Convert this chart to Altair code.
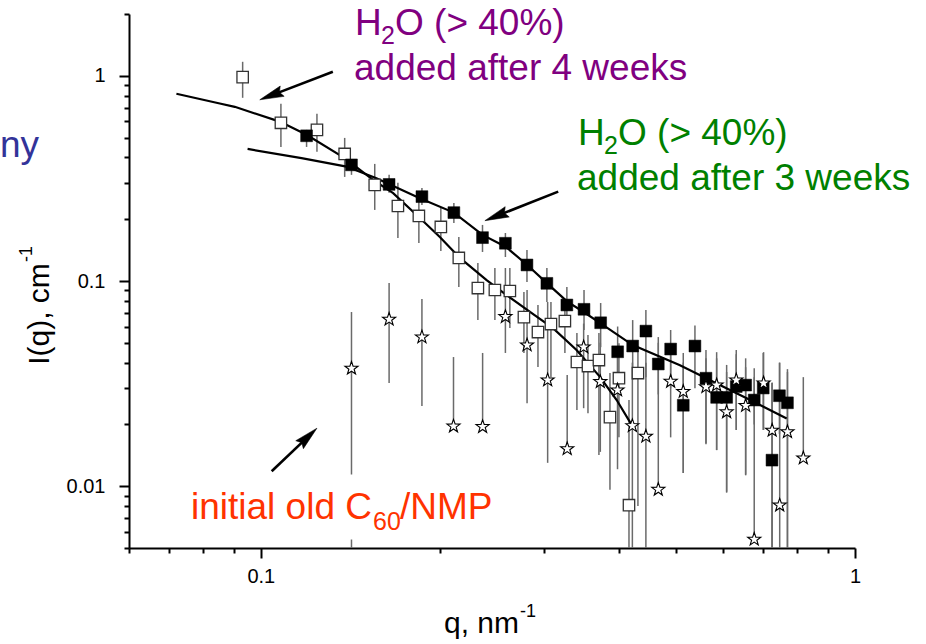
import math
import altair as alt
import pandas as pd

FONT = "Liberation Sans"

# ---------------- data ----------------
# open squares (H2O added after 4 weeks)
open_q = [0.0932, 0.1081, 0.1243, 0.1384, 0.1555, 0.1701, 0.1845, 0.2009, 0.2154, 0.2319,
          0.2477, 0.2625, 0.2772, 0.2927, 0.3078, 0.3249, 0.3404, 0.3553, 0.3707, 0.3869,
          0.4006, 0.4165, 0.4312]
open_I = [0.985, 0.590, 0.545, 0.416, 0.294, 0.232, 0.2075, 0.1834, 0.1295, 0.0924,
          0.0904, 0.0894, 0.0667, 0.0564, 0.0617, 0.0638, 0.0403, 0.0385, 0.0412, 0.0217,
          0.0336, 0.00808, 0.0356]
open_hi = [1.170, 0.730, 0.653, 0.498, 0.372, 0.301, 0.2428, 0.2270, 0.1639, 0.1224,
           0.1157, 0.1157, 0.0884, 0.0764, 0.0790, 0.0808, 0.0558, 0.0545, 0.0558, 0.0356,
           0.0498, 0.0263, 0.0480]
open_lo = [0.781, 0.450, 0.426, 0.3215, 0.222, 0.1621, 0.1532, 0.1400, 0.0935, 0.0645,
           0.0645, 0.0590, 0.0446, 0.0381, 0.0340, 0.0446, 0.0235, 0.0227, 0.0142, 0.0096,
           0.0173, 0.0040, 0.0080]

# filled squares (H2O added after 3 weeks)
fill_q = [0.1194, 0.1421, 0.1644, 0.1867, 0.2113, 0.2361, 0.2580, 0.2805, 0.3030, 0.3274,
          0.3499, 0.3732, 0.3986, 0.4225, 0.4447, 0.4666, 0.4895, 0.5140, 0.5378, 0.5613,
          0.5850, 0.6081, 0.6312, 0.6546, 0.6767, 0.7007, 0.7249, 0.7462, 0.7697]
fill_I = [0.510, 0.368, 0.2956, 0.2577, 0.2154, 0.1627, 0.1527, 0.1197, 0.0974, 0.0764,
          0.0728, 0.0626, 0.0452, 0.0482, 0.0570, 0.0394, 0.0466, 0.0248, 0.0482, 0.0336,
          0.0271, 0.0271, 0.0306, 0.0311, 0.0263, 0.0301, 0.0134, 0.0276, 0.0255]
fill_hi = [0.545, 0.389, 0.329, 0.2842, 0.2401, 0.1876, 0.1714, 0.1416, 0.1157, 0.0935,
           0.0904, 0.0781, 0.0600, 0.0645, 0.0722, 0.0500, 0.0577, 0.0446, 0.0607, 0.0461,
           0.0450, 0.0390, 0.0461, 0.0420, 0.0340, 0.0446, 0.0318, 0.0400, 0.0372]
fill_lo = [0.450, 0.329, 0.269, 0.2348, 0.1919, 0.1385, 0.1309, 0.0989, 0.0790, 0.0622,
           0.0577, 0.0476, 0.0340, 0.0330, 0.0340, 0.0280, 0.0300, 0.0116, 0.0300, 0.0162,
           0.0150, 0.0093, 0.0188, 0.0113, 0.0200, 0.0188, 0.0040, 0.0180, 0.0040]

# open stars (initial old C60/NMP)
star_q = [0.1421, 0.1644, 0.1867, 0.2110, 0.2362, 0.2580, 0.2806, 0.3039, 0.3278, 0.3494,
          0.3727, 0.3984, 0.4220, 0.4447, 0.4666, 0.4895, 0.5140, 0.5613, 0.5850, 0.6081,
          0.6312, 0.6546, 0.6767, 0.7017, 0.7254, 0.7469, 0.7697, 0.8185]
star_I = [0.0375, 0.0650, 0.0533, 0.0196, 0.0195, 0.0670, 0.0487, 0.0329, 0.0152, 0.0476,
          0.0323, 0.0294, 0.0197, 0.0175, 0.00964, 0.0324, 0.0289, 0.0305, 0.0311, 0.0230,
          0.0329, 0.0247, 0.00551, 0.0318, 0.0187, 0.00808, 0.0184, 0.0137]
star_hi = [0.0706, 0.0978, 0.0817, 0.0426, 0.0446, 0.1157, 0.0904, 0.0790, 0.0348, 0.0620,
           0.0500, 0.0450, 0.0400, 0.0400, 0.0533, 0.0450, 0.0400, 0.0420, 0.0420, 0.0360,
           0.0440, 0.0380, 0.0376, 0.0450, 0.0320, 0.0400, 0.0360, 0.0340]
star_lo = [0.0040, 0.0318, 0.0246, 0.0196, 0.0195, 0.0446, 0.0254, 0.0130, 0.0152, 0.0240,
           0.0147, 0.0121, 0.0040, 0.0040, 0.00964, 0.0173, 0.0116, 0.0160, 0.0150, 0.0094,
           0.0188, 0.0114, 0.00551, 0.0188, 0.0040, 0.0040, 0.0040, 0.0137]

# fitted curves
fitA_q = [0.0721, 0.0853, 0.0904, 0.1076, 0.1194, 0.1384, 0.1545, 0.1670, 0.1852, 0.2001,
          0.2163, 0.2399, 0.2592, 0.2838, 0.3106, 0.3399, 0.3722, 0.3971, 0.4213]
fitA_I = [0.817, 0.733, 0.706, 0.598, 0.5155, 0.3967, 0.311, 0.2678, 0.2029, 0.1639,
          0.1295, 0.1011, 0.0854, 0.0708, 0.0588, 0.0461, 0.0341, 0.0263, 0.0198]
fitB_q = [0.0950, 0.1171, 0.1394, 0.1565, 0.1852, 0.2113, 0.2361, 0.2582, 0.2808, 0.3033,
          0.3279, 0.3489, 0.3732, 0.4225, 0.5075, 0.5773, 0.6572, 0.7674]
fitB_I = [0.440, 0.3967, 0.3610, 0.3170, 0.2531, 0.2154, 0.1677, 0.1470, 0.1197, 0.0974,
          0.0793, 0.0708, 0.0622, 0.0487, 0.0389, 0.0323, 0.0268, 0.0214]

# arrows (tail -> tip, data coordinates)
arrow_tail_q = [0.1322, 0.3166, 0.1043]
arrow_tail_I = [1.046, 0.2726, 0.01183]
arrow_tip_q = [0.0996, 0.2383, 0.1243]
arrow_tip_I = [0.764, 0.1968, 0.01918]

# axes
X_DOMAIN = [0.06, 1.0]
Y_DOMAIN = [0.005, 2.0]
X_TICKS = [0.06, 0.07, 0.08, 0.09, 0.1, 0.2, 0.3, 0.4, 0.5, 0.6, 0.7, 0.8, 0.9, 1.0]
Y_TICKS = [0.005, 0.006, 0.007, 0.008, 0.009, 0.01, 0.02, 0.03, 0.04, 0.05, 0.06, 0.07,
           0.08, 0.09, 0.1, 0.2, 0.3, 0.4, 0.5, 0.6, 0.7, 0.8, 0.9, 1.0, 2.0]
X_MAJOR = [0.1, 1.0]
X_MAJOR_LABELS = ["0.1", "1"]
Y_MAJOR = [0.01, 0.1, 1.0]
Y_MAJOR_LABELS = ["0.01", "0.1", "1"]

# ---------------- layout ----------------
W, H = 726, 534
PAD_L, PAD_T, PAD_R, PAD_B = 129, 14, 71, 96
PPD_X = W / (math.log10(X_DOMAIN[1]) - math.log10(X_DOMAIN[0]))
PPD_Y = H / (math.log10(Y_DOMAIN[1]) - math.log10(Y_DOMAIN[0]))


def major_test(vals):
    return " || ".join(f"datum.value == {v}" for v in vals)


def label_expr(vals, labels):
    expr = "''"
    for v, l in reversed(list(zip(vals, labels))):
        expr = f"datum.value == {v} ? '{l}' : ({expr})"
    return expr


def make_axis(ticks, major, labels, pad):
    return alt.Axis(
        values=ticks,
        labelExpr=label_expr(major, labels),
        tickSize={"condition": {"test": major_test(major), "value": 10}, "value": 5},
        tickWidth=2, tickColor="black",
        domainWidth=2, domainColor="black",
        labelFont=FONT, labelFontSize=20, labelColor="black", labelPadding=pad,
        labelFlush=False, labelOverlap=False, grid=False, title="",
    )


x_axis = make_axis(X_TICKS, X_MAJOR, X_MAJOR_LABELS, 8)
y_axis = make_axis(Y_TICKS, Y_MAJOR, Y_MAJOR_LABELS, 14)
xs = alt.Scale(type="log", domain=X_DOMAIN, nice=False)
ys = alt.Scale(type="log", domain=Y_DOMAIN, nice=False)


def X(f):
    return alt.X(f, type="quantitative", scale=xs, axis=x_axis)


def Y(f):
    return alt.Y(f, type="quantitative", scale=ys, axis=y_axis)


open_df = pd.DataFrame({"q": open_q, "I": open_I, "lo": open_lo, "hi": open_hi})
fill_df = pd.DataFrame({"q": fill_q, "I": fill_I, "lo": fill_lo, "hi": fill_hi})
star_df = pd.DataFrame({"q": star_q, "I": star_I, "lo": star_lo, "hi": star_hi})
err_df = pd.concat([open_df, fill_df, star_df], ignore_index=True)
fitA_df = pd.DataFrame({"q": fitA_q, "I": fitA_I})
fitB_df = pd.DataFrame({"q": fitB_q, "I": fitB_I})

# arrows: compute head angle and shortened shaft end
rows = []
HEAD_LEN = 24.0
for tq, tI, hq, hI in zip(arrow_tail_q, arrow_tail_I, arrow_tip_q, arrow_tip_I):
    dx = (math.log10(hq) - math.log10(tq)) * PPD_X
    dy = -(math.log10(hI) - math.log10(tI)) * PPD_Y
    length = math.hypot(dx, dy)
    ang = math.degrees(math.atan2(dy, dx)) % 360
    f = 1 - (HEAD_LEN * 0.6) / length
    eq = 10 ** (math.log10(tq) + f * (math.log10(hq) - math.log10(tq)))
    eI = 10 ** (math.log10(tI) + f * (math.log10(hI) - math.log10(tI)))
    rows.append({"tq": tq, "tI": tI, "eq": eq, "eI": eI, "hq": hq, "hI": hI, "ang": ang})
arrow_df = pd.DataFrame(rows)

STAR = ("M0,-1L0.235,-0.324L0.951,-0.309L0.38,0.124L0.588,0.809L0,0.4"
        "L-0.588,0.809L-0.38,0.124L-0.951,-0.309L-0.235,-0.324Z")
HEAD = "M0,0L-2,-0.46L-1.75,0L-2,0.46Z"

err = alt.Chart(err_df).mark_rule(color="#6a6a6a", strokeWidth=1.5, clip=True).encode(
    x=X("q"), y=Y("lo"), y2=alt.Y2("hi"))
fitA = alt.Chart(fitA_df).mark_line(color="black", strokeWidth=2.2, clip=True).encode(
    x=X("q"), y=Y("I"))
fitB = alt.Chart(fitB_df).mark_line(color="black", strokeWidth=2.2, clip=True).encode(
    x=X("q"), y=Y("I"))
open_pts = alt.Chart(open_df).mark_point(shape="square", size=130, filled=True, fill="white",
                                         stroke="#333333", strokeWidth=1.3, opacity=1).encode(
    x=X("q"), y=Y("I"))
fill_pts = alt.Chart(fill_df).mark_point(shape="square", size=140, filled=True, fill="black",
                                         stroke="black", strokeWidth=0.5, opacity=1).encode(
    x=X("q"), y=Y("I"))
star_pts = alt.Chart(star_df).mark_point(shape=STAR, size=190, filled=True, fill="white",
                                         stroke="black", strokeWidth=1.1, opacity=1).encode(
    x=X("q"), y=Y("I"))
shaft = alt.Chart(arrow_df).mark_rule(color="black", strokeWidth=2.6).encode(
    x=X("tq"), y=Y("tI"), x2=alt.X2("eq"), y2=alt.Y2("eI"))
head = alt.Chart(arrow_df).mark_point(shape=HEAD, size=576, filled=True, fill="black",
                                      stroke="black", strokeWidth=0.5, opacity=1).encode(
    x=X("hq"), y=Y("hI"), angle=alt.Angle("ang:Q", scale=None))

dummy = pd.DataFrame({"k": [0]})


def txt(text, x, y, size, color, align="left", angle=0):
    return alt.Chart(dummy).mark_text(
        text=text, font=FONT, fontSize=size, color=color, align=align,
        baseline="alphabetic", angle=angle).encode(
        x=alt.value(x - PAD_L), y=alt.value(y - PAD_T))


box = alt.Chart(dummy).mark_rect(fill="white", stroke="white").encode(
    x=alt.value(186 - PAD_L), x2=alt.value(494 - PAD_L),
    y=alt.value(475 - PAD_T), y2=alt.value(539 - PAD_T))

PURPLE, GREEN, RED, BLUE = "#800080", "#008000", "#ff3300", "#333399"
texts = [
    txt("H", 355, 35, 37, PURPLE),
    txt("2", 381, 44, 25, PURPLE),
    txt("O (> 40%)", 395, 35, 37, PURPLE),
    txt("added after 4 weeks", 354, 80, 37, PURPLE),
    txt("H", 578, 145, 37, GREEN),
    txt("2", 604, 154, 25, GREEN),
    txt("O (> 40%)", 618, 145, 37, GREEN),
    txt("added after 3 weeks", 577, 190, 37, GREEN),
    txt("initial old C", 191, 519, 37, RED),
    txt("60", 373, 530, 25, RED),
    txt("/NMP", 400, 519, 37, RED),
    txt("ny", 0, 157, 37, BLUE),
    txt("I(q), cm", 49, 314, 30, "black", align="center", angle=270),
    txt("-1", 32, 262, 18, "black", align="left", angle=270),
    txt("q, nm", 444, 633, 30, "black"),
    txt("-1", 520, 617, 18, "black"),
]

chart = alt.layer(err, fitA, fitB, open_pts, fill_pts, star_pts, box, shaft, head, *texts).properties(
    width=W, height=H,
    padding={"left": PAD_L, "top": PAD_T, "right": PAD_R, "bottom": PAD_B},
    autosize=alt.AutoSizeParams(type="none"),
    background="white",
).configure_view(stroke=None)

chart.save("out.html", embed_options={"renderer": "svg", "actions": False})
